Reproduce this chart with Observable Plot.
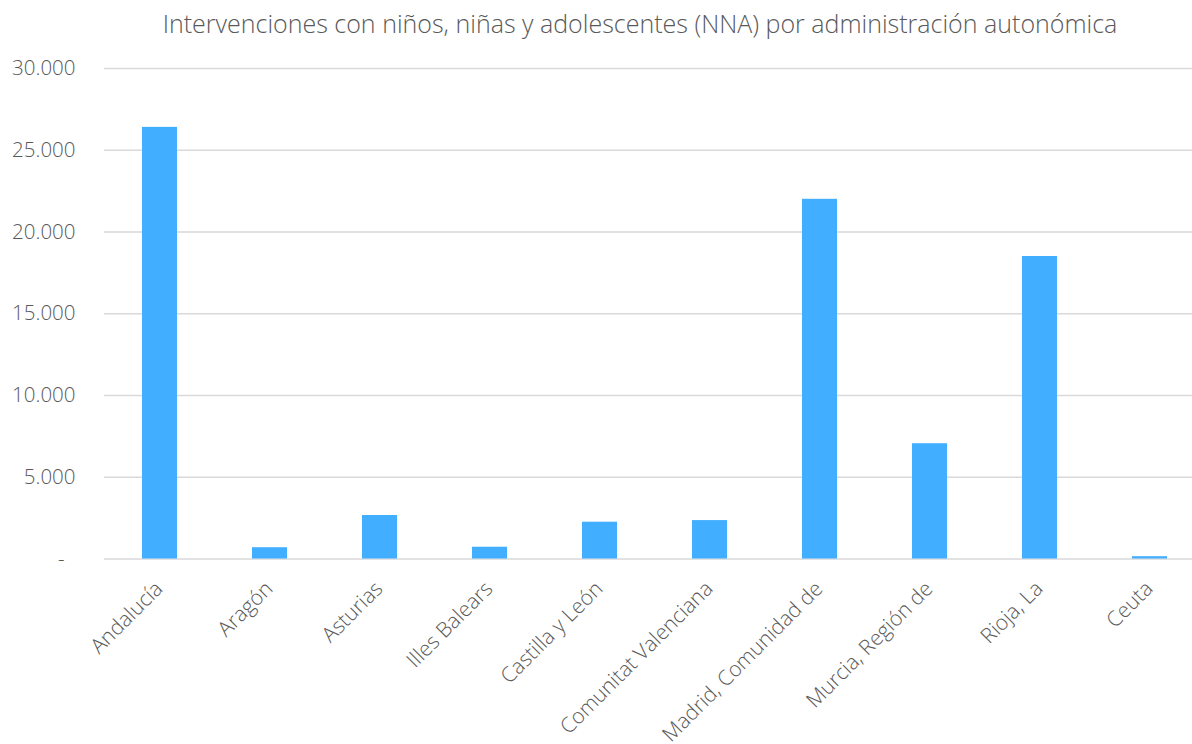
<!DOCTYPE html>
<html>
<head>
<meta charset="utf-8">
<script src="https://cdn.jsdelivr.net/npm/d3@7"></script>
<script src="https://cdn.jsdelivr.net/npm/@observablehq/plot@0.6"></script>
<style>
  html, body { margin: 0; padding: 0; background: #fff; }
  body { width: 1192px; height: 744px; overflow: hidden; font-family: "Open Sans", sans-serif; }
  #title { height: 44px; line-height: 46px; text-align: center; font-size: 25px; font-weight: 300; color: #595959; padding-left: 88px; box-sizing: border-box; white-space: nowrap; }
  svg { display: block; }
</style>
</head>
<body>
<div id="title">Intervenciones con niños, niñas y adolescentes (NNA) por administración autonómica</div>
<div id="chart"></div>
<script>
const categories = ["Andalucía", "Aragón", "Asturias", "Illes Balears", "Castilla y León", "Comunitat Valenciana", "Madrid, Comunidad de", "Murcia, Región de", "Rioja, La", "Ceuta"];
const values = [26400, 690, 2660, 720, 2250, 2350, 22000, 7050, 18500, 140];
const yTicks = [5000, 10000, 15000, 20000, 25000, 30000];

const data = categories.map((c, i) => ({category: c, value: values[i]}));
const fmt = d => d3.format(",")(d).replace(/,/g, ".");

const chart = Plot.plot({
  width: 1192,
  height: 700,
  marginTop: 24,
  marginBottom: 185.5,
  marginLeft: 104,
  marginRight: 0,
  style: {fontFamily: "'Open Sans', sans-serif", fontWeight: 300, fontSize: "20px", color: "#595959", background: "#fff"},
  x: {domain: categories, range: [104, 1204], paddingInner: 0.686, paddingOuter: 0.343, axis: null},
  y: {domain: [0, 30000], axis: null},
  marks: [
    Plot.ruleY([0, ...yTicks], {stroke: "#d9d9d9", strokeWidth: 1.5}),
    Plot.barY(data, {x: "category", y: "value", fill: "#42AEFF"}),
    Plot.text(yTicks, {y: d => d, frameAnchor: "left", dx: -29, textAnchor: "end", text: d => fmt(d), fill: "#595959", fontSize: 20.5, fontWeight: 300}),
    Plot.text([0], {y: d => d, frameAnchor: "left", dx: -40, textAnchor: "end", text: () => "-", fill: "#595959", fontSize: 20.5, fontWeight: 300}),
    Plot.text(categories, {x: d => d, frameAnchor: "bottom", rotate: -45, textAnchor: "end", dx: 4, dy: 31, text: d => d, fill: "#595959", fontSize: 21, fontWeight: 300})
  ]
});
document.getElementById("chart").appendChild(chart);
</script>
</body>
</html>
